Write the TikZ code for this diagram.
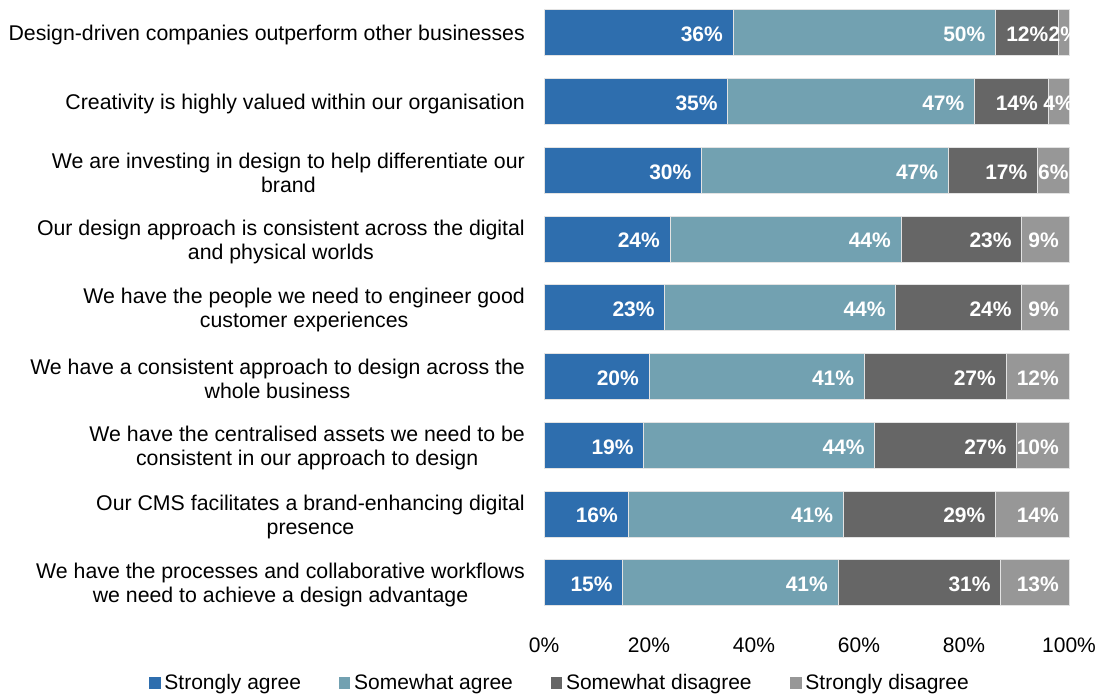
\documentclass[tikz,border=0pt]{standalone}
\usepackage{fontspec}
\setmainfont{Liberation Sans}
\usetikzlibrary{positioning}

\definecolor{sagree}{HTML}{2E6EAE}
\definecolor{wagree}{HTML}{72A1B1}
\definecolor{wdisagree}{HTML}{666666}
\definecolor{sdisagree}{HTML}{979797}

\begin{document}
\begin{tikzpicture}[x=1pt,y=-1pt,
  catlabel/.style={anchor=east,align=center,inner sep=0pt,yshift=-2.5pt,font=\fontsize{21.3}{24}\selectfont},
  pct/.style={anchor=east,inner sep=0pt,yshift=-1.5pt,text=white,font=\fontsize{21}{24}\selectfont\bfseries},
  seg/.style={draw=gray!22,line width=0.8pt},
  ticklabel/.style={inner sep=0pt,font=\fontsize{21}{24}\selectfont},
  legbox/.style={minimum size=11.5pt,inner sep=0pt},
  legtext/.style={inner sep=0pt,yshift=-1pt,font=\fontsize{21}{24}\selectfont}]

\useasboundingbox (0,0) rectangle (1102,695);

%% statements
\node[catlabel] (c1) at (525,32.8) {Design-driven companies outperform other businesses};
\node[catlabel] (c2) at (525,101.6) {Creativity is highly valued within our organisation};
\node[catlabel] (c3) at (525,170.3) {We are investing in design to help differentiate our\\brand};
\node[catlabel] (c4) at (525,239.1) {Our design approach is consistent across the digital\\and physical worlds};
\node[catlabel] (c5) at (525,307.8) {We have the people we need to engineer good\\customer experiences};
\node[catlabel] (c6) at (525,376.6) {We have a consistent approach to design across the\\whole business};
\node[catlabel] (c7) at (525,445.3) {We have the centralised assets we need to be\\consistent in our approach to design};
\node[catlabel] (c8) at (525,514.1) {Our CMS facilitates a brand-enhancing digital\\presence};
\node[catlabel] (c9) at (525,582.8) {We have the processes and collaborative workflows\\we need to achieve a design advantage};

\begin{scope}[shift={(544,0)},xscale=5.25]

%% bars (x in percent)
\draw[seg,fill=sagree] (0,9.8) rectangle (36,55.8);     %% row 1
\draw[seg,fill=wagree] (36,9.8) rectangle (86,55.8);
\draw[seg,fill=wdisagree] (86,9.8) rectangle (98,55.8);
\draw[seg,fill=sdisagree] (98,9.8) rectangle (100,55.8);

\draw[seg,fill=sagree] (0,78.6) rectangle (35,124.6);    %% row 2
\draw[seg,fill=wagree] (35,78.6) rectangle (82,124.6);
\draw[seg,fill=wdisagree] (82,78.6) rectangle (96,124.6);
\draw[seg,fill=sdisagree] (96,78.6) rectangle (100,124.6);

\draw[seg,fill=sagree] (0,147.3) rectangle (30,193.3);   %% row 3
\draw[seg,fill=wagree] (30,147.3) rectangle (77,193.3);
\draw[seg,fill=wdisagree] (77,147.3) rectangle (94,193.3);
\draw[seg,fill=sdisagree] (94,147.3) rectangle (100,193.3);

\draw[seg,fill=sagree] (0,216.1) rectangle (24,262.1);   %% row 4
\draw[seg,fill=wagree] (24,216.1) rectangle (68,262.1);
\draw[seg,fill=wdisagree] (68,216.1) rectangle (91,262.1);
\draw[seg,fill=sdisagree] (91,216.1) rectangle (100,262.1);

\draw[seg,fill=sagree] (0,284.8) rectangle (23,330.8);   %% row 5
\draw[seg,fill=wagree] (23,284.8) rectangle (67,330.8);
\draw[seg,fill=wdisagree] (67,284.8) rectangle (91,330.8);
\draw[seg,fill=sdisagree] (91,284.8) rectangle (100,330.8);

\draw[seg,fill=sagree] (0,353.6) rectangle (20,399.6);   %% row 6
\draw[seg,fill=wagree] (20,353.6) rectangle (61,399.6);
\draw[seg,fill=wdisagree] (61,353.6) rectangle (88,399.6);
\draw[seg,fill=sdisagree] (88,353.6) rectangle (100,399.6);

\draw[seg,fill=sagree] (0,422.3) rectangle (19,468.3);   %% row 7
\draw[seg,fill=wagree] (19,422.3) rectangle (63,468.3);
\draw[seg,fill=wdisagree] (63,422.3) rectangle (90,468.3);
\draw[seg,fill=sdisagree] (90,422.3) rectangle (100,468.3);

\draw[seg,fill=sagree] (0,491.1) rectangle (16,537.1);   %% row 8
\draw[seg,fill=wagree] (16,491.1) rectangle (57,537.1);
\draw[seg,fill=wdisagree] (57,491.1) rectangle (86,537.1);
\draw[seg,fill=sdisagree] (86,491.1) rectangle (100,537.1);

\draw[seg,fill=sagree] (0,559.8) rectangle (15,605.8);   %% row 9
\draw[seg,fill=wagree] (15,559.8) rectangle (56,605.8);
\draw[seg,fill=wdisagree] (56,559.8) rectangle (87,605.8);
\draw[seg,fill=sdisagree] (87,559.8) rectangle (100,605.8);

%% value labels
\begin{scope}
\clip (0,0) rectangle (100,620);
\node[pct] (v1a) at (34.1,32.8) {36\%};
\node[pct] (v1b) at (84.1,32.8) {50\%};
\node[pct] (v1c) at (96.1,32.8) {12\%};
\node[pct,anchor=center] (v1d) at (99,32.8) {2\%};

\node[pct] (v2a) at (33.1,101.6) {35\%};
\node[pct] (v2b) at (80.1,101.6) {47\%};
\node[pct] (v2c) at (94.1,101.6) {14\%};
\node[pct,anchor=center] (v2d) at (98,101.6) {4\%};

\node[pct] (v3a) at (28.1,170.3) {30\%};
\node[pct] (v3b) at (75.1,170.3) {47\%};
\node[pct] (v3c) at (92.1,170.3) {17\%};
\node[pct,anchor=center] (v3d) at (97,170.3) {6\%};

\node[pct] (v4a) at (22.1,239.1) {24\%};
\node[pct] (v4b) at (66.1,239.1) {44\%};
\node[pct] (v4c) at (89.1,239.1) {23\%};
\node[pct] (v4d) at (98.1,239.1) {9\%};

\node[pct] (v5a) at (21.1,307.8) {23\%};
\node[pct] (v5b) at (65.1,307.8) {44\%};
\node[pct] (v5c) at (89.1,307.8) {24\%};
\node[pct] (v5d) at (98.1,307.8) {9\%};

\node[pct] (v6a) at (18.1,376.6) {20\%};
\node[pct] (v6b) at (59.1,376.6) {41\%};
\node[pct] (v6c) at (86.1,376.6) {27\%};
\node[pct] (v6d) at (98.1,376.6) {12\%};

\node[pct] (v7a) at (17.1,445.3) {19\%};
\node[pct] (v7b) at (61.1,445.3) {44\%};
\node[pct] (v7c) at (88.1,445.3) {27\%};
\node[pct] (v7d) at (98.1,445.3) {10\%};

\node[pct] (v8a) at (14.1,514.1) {16\%};
\node[pct] (v8b) at (55.1,514.1) {41\%};
\node[pct] (v8c) at (84.1,514.1) {29\%};
\node[pct] (v8d) at (98.1,514.1) {14\%};

\node[pct] (v9a) at (13.1,582.8) {15\%};
\node[pct] (v9b) at (54.1,582.8) {41\%};
\node[pct] (v9c) at (85.1,582.8) {31\%};
\node[pct] (v9d) at (98.1,582.8) {13\%};
\end{scope}

%% axis labels
\node[ticklabel] (t0) at (0,645) {0\%};
\node[ticklabel] (t20) at (20,645) {20\%};
\node[ticklabel] (t40) at (40,645) {40\%};
\node[ticklabel] (t60) at (60,645) {60\%};
\node[ticklabel] (t80) at (80,645) {80\%};
\node[ticklabel] (t100) at (100,645) {100\%};

\end{scope}

%% legend
\node[legbox,fill=sagree] (k1) at (154.8,682.8) {};
\node[legtext,right=3.5pt of k1] (l1) {Strongly agree};
\node[legbox,fill=wagree] (k2) at (344.5,682.8) {};
\node[legtext,right=3.5pt of k2] (l2) {Somewhat agree};
\node[legbox,fill=wdisagree] (k3) at (556.4,682.8) {};
\node[legtext,right=3.5pt of k3] (l3) {Somewhat disagree};
\node[legbox,fill=sdisagree] (k4) at (795.8,682.8) {};
\node[legtext,right=3.5pt of k4] (l4) {Strongly disagree};

\end{tikzpicture}
\end{document}
